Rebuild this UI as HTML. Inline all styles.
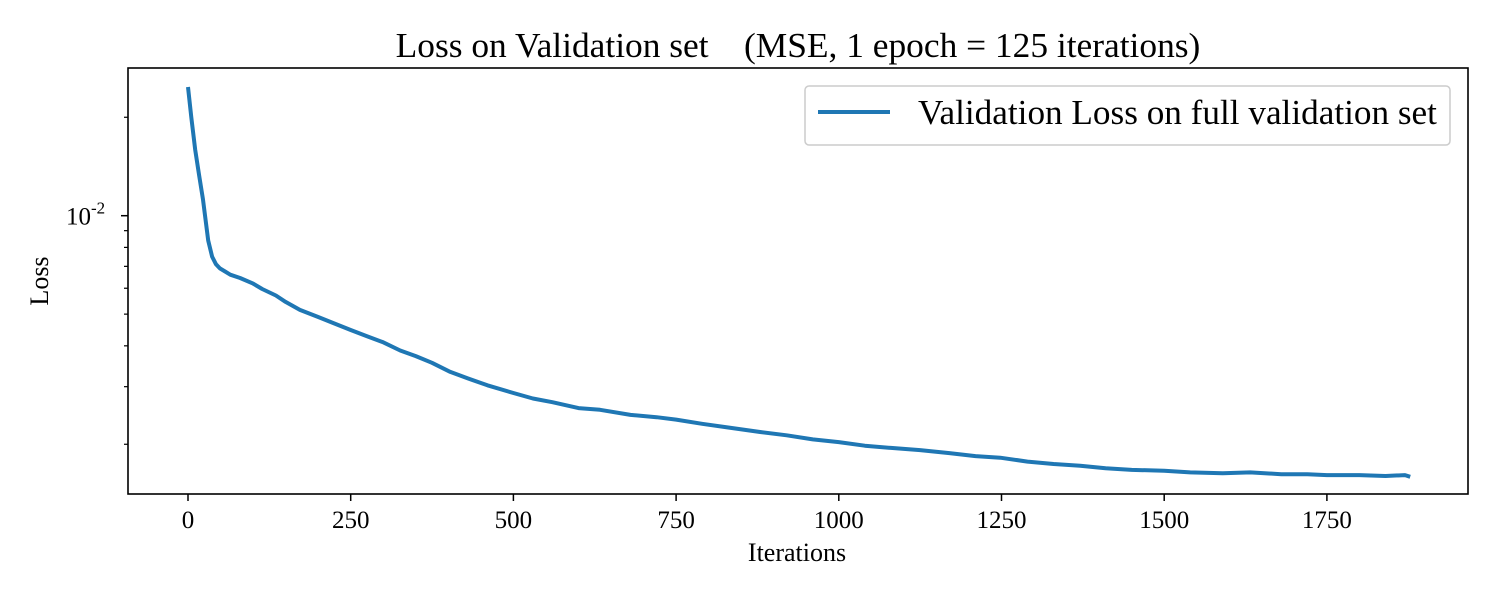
<!DOCTYPE html>
<html><head><meta charset="utf-8"><style>
body{margin:0;background:#fff;}
svg text{font-family:"Liberation Serif",serif;fill:#000;}
</style></head><body>
<svg width="1500" height="600" xmlns="http://www.w3.org/2000/svg">
<rect width="1500" height="600" fill="#fff"/>
<text x="798" y="57" font-size="35.4" text-anchor="middle" style="white-space:pre">Loss on Validation set    (MSE, 1 epoch = 125 iterations)</text>
<g id="axes"></g>
<path id="line" fill="none" stroke="#1f77b4" stroke-width="4" stroke-linejoin="round"/>
<rect x="128" y="68" width="1340" height="426" fill="none" stroke="#000" stroke-width="1.6"/>
<g>
<rect x="805" y="86" width="645" height="59" rx="4" fill="#fff" fill-opacity="0.8" stroke="#ccc" stroke-width="1.5"/>
<line x1="818" y1="112" x2="890" y2="112" stroke="#1f77b4" stroke-width="4"/>
<text x="918" y="124" font-size="35.2">Validation Loss on full validation set</text>
</g>
<text x="797" y="561" font-size="26" text-anchor="middle">Iterations</text>
<text x="48" y="281" font-size="26" text-anchor="middle" transform="rotate(-90 48 281)">Loss</text>
</svg>
<script>
const iters = [0,5,11,17,23,31,37,43,49,57,65,80,100,114,135,150,172,200,225,250,275,300,326,350,375,403,430,460,500,530,560,600,633,680,720,750,790,830,879,920,960,1000,1040,1080,1125,1170,1210,1248,1290,1330,1371,1410,1450,1500,1540,1590,1632,1680,1720,1750,1800,1840,1870,1878];
const losses = [0.02475,0.0200,0.0159,0.0133,0.0112,0.0084,0.0075,0.0071,0.0069,0.00675,0.0066,0.00645,0.0062,0.00597,0.0057,0.00545,0.00515,0.0049,0.00468,0.00447,0.00428,0.0041,0.00387,0.00372,0.00355,0.00333,0.00318,0.00303,0.00287,0.00276,0.00269,0.00258,0.00255,0.00246,0.00242,0.00238,0.00231,0.00225,0.00218,0.00213,0.00207,0.00203,0.00198,0.00195,0.00192,0.00188,0.00184,0.00182,0.00177,0.00174,0.00172,0.00169,0.00167,0.00166,0.00164,0.00163,0.00164,0.00162,0.00162,0.00161,0.00161,0.00160,0.00161,0.00159];
const xTicks = [0,250,500,750,1000,1250,1500,1750];
const yMinor = [0.002,0.003,0.004,0.005,0.006,0.007,0.008,0.009,0.02];
const NS='http://www.w3.org/2000/svg';
const xs = v => 188 + v*(162.7/250);
const ys = v => 215.7 - 327*Math.log10(v/0.01);
const g = document.getElementById('axes');
function mk(tag, attrs){const e=document.createElementNS(NS,tag);for(const k in attrs)e.setAttribute(k,attrs[k]);return e;}
xTicks.forEach(t=>{
  const l=mk('line',{x1:xs(t),x2:xs(t),y1:494,y2:501,stroke:'#000','stroke-width':1.5});
  
  
  g.appendChild(l);
  const tx=mk('text',{x:xs(t),y:528,'font-size':25,'text-anchor':'middle'});
  tx.textContent=t;
  
  
  g.appendChild(tx);
});
yMinor.forEach(v=>{
  const l=mk('line',{x1:124,x2:128,y1:ys(v),y2:ys(v),stroke:'#000','stroke-width':1.2});
  
  
  g.appendChild(l);
});
const mj=mk('line',{x1:121,x2:128,y1:ys(0.01),y2:ys(0.01),stroke:'#000','stroke-width':1.5});


g.appendChild(mj);
const yl=mk('text',{x:66,y:ys(0.01)+9,'font-size':25});
yl.innerHTML='10<tspan dy="-11" font-size="17">-2</tspan>';


g.appendChild(yl);
document.getElementById('line').setAttribute('d', iters.map((t,i)=>(i?'L':'M')+xs(t).toFixed(1)+' '+ys(losses[i]).toFixed(1)).join(' '));
</script>
</body></html>
